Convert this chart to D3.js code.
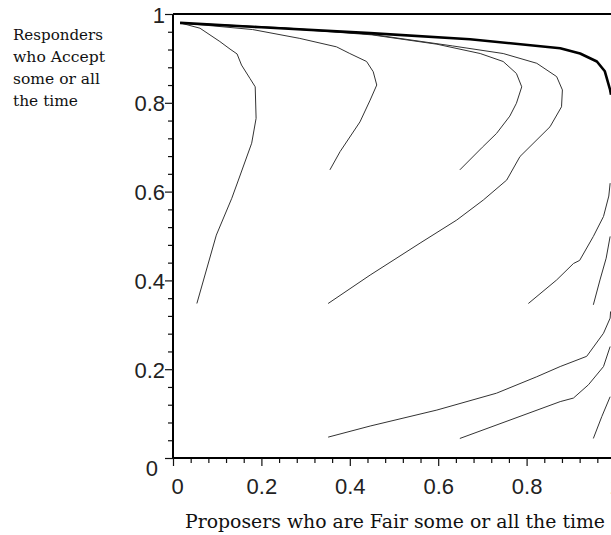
<!DOCTYPE html>
<html><head><meta charset="utf-8">
<script src="https://cdn.jsdelivr.net/npm/d3@7"></script>
<style>
body{margin:0;background:#fff;}
svg{display:block;}
.tick text{font-family:"Liberation Sans",Arial,sans-serif;font-size:22px;fill:#222;}
</style></head>
<body>
<svg id="chart" width="611" height="535"></svg>
<script>
// Tick values
const majorTicks = [0, 0.2, 0.4, 0.6, 0.8, 1];
const xTickLabels = ["0", "0.2", "0.4", "0.6", "0.8", "1"];
const yTickLabels = ["0", "0.2", "0.4", "0.6", "0.8", "1"];
const xTitle = "Proposers who are Fair some or all the time";
const yTitleLines = ["Responders", "who Accept", "some or all", "the time"];

// Trajectories: [proposers fair, responders accept]
const curveA = [[0.054,0.348],[0.098,0.502],[0.133,0.585],[0.148,0.626],[0.178,0.709],[0.188,0.765],[0.186,0.836],[0.174,0.855],[0.155,0.885],[0.145,0.910],[0.129,0.921],[0.106,0.938],[0.061,0.968],[0.016,0.980]];
const curveB = [[0.355,0.649],[0.378,0.690],[0.423,0.757],[0.446,0.806],[0.461,0.840],[0.453,0.870],[0.438,0.893],[0.400,0.911],[0.370,0.926],[0.287,0.945],[0.180,0.965],[0.016,0.980]];
const curveC = [[0.649,0.649],[0.700,0.700],[0.732,0.731],[0.762,0.770],[0.777,0.799],[0.789,0.836],[0.777,0.866],[0.747,0.893],[0.695,0.911],[0.597,0.932],[0.450,0.953],[0.250,0.968],[0.016,0.980]];
const curveD = [[0.351,0.348],[0.446,0.412],[0.559,0.484],[0.642,0.536],[0.702,0.581],[0.755,0.626],[0.785,0.679],[0.853,0.746],[0.879,0.791],[0.881,0.829],[0.868,0.859],[0.823,0.889],[0.747,0.911],[0.633,0.928],[0.450,0.954],[0.250,0.969],[0.016,0.980]];
const curveE = [[0.016,0.980],[0.200,0.970],[0.446,0.957],[0.672,0.943],[0.876,0.923],[0.921,0.911],[0.959,0.893],[0.977,0.871],[0.989,0.829],[0.991,0.818]];
const curveF = [[0.804,0.348],[0.868,0.401],[0.906,0.438],[0.920,0.445],[0.951,0.499],[0.974,0.544],[0.986,0.590],[0.989,0.619]];
const curveG = [[0.951,0.345],[0.966,0.401],[0.980,0.450],[0.989,0.499]];
const curveH = [[0.351,0.047],[0.446,0.072],[0.597,0.108],[0.732,0.146],[0.823,0.183],[0.876,0.206],[0.936,0.229],[0.974,0.281],[0.989,0.315],[0.990,0.330]];
const curveI = [[0.649,0.044],[0.876,0.127],[0.906,0.135],[0.940,0.165],[0.974,0.206],[0.989,0.251]];
const curveJ = [[0.951,0.044],[0.970,0.093],[0.989,0.138]];
const topLine = [[0,1],[1,1]];

const thinCurves = [curveA, curveB, curveC, curveD, curveF, curveG, curveH, curveI, curveJ];
const thickCurves = [curveE, topLine];

const svg = d3.select("#chart");
const x = d3.scaleLinear().domain([0,1]).range([173,615]);
const y = d3.scaleLinear().domain([0,1]).range([458,14]);

const minorTicks = d3.range(0, 1.0001, 0.04).filter(v => Math.abs(v*5 - Math.round(v*5)) > 1e-6);

// minor ticks
svg.append("g").attr("transform","translate(0,458)")
  .call(d3.axisBottom(x).tickValues(minorTicks).tickSize(5).tickFormat(""))
  .call(g=>g.select(".domain").remove())
  .selectAll("line").attr("stroke","#111").attr("stroke-width",1.2);
svg.append("g").attr("transform","translate(173,0)")
  .call(d3.axisLeft(y).tickValues(minorTicks).tickSize(5).tickFormat(""))
  .call(g=>g.select(".domain").remove())
  .selectAll("line").attr("stroke","#111").attr("stroke-width",1.2);

// major x
const gx = svg.append("g").attr("transform","translate(0,458)")
  .call(d3.axisBottom(x).tickValues(majorTicks).tickSize(8).tickPadding(10)
    .tickFormat((d,i)=>xTickLabels[i]));
gx.select(".domain").attr("stroke","#000").attr("stroke-width",2).attr("d","M173,0H615");
gx.selectAll("line").attr("stroke","#111").attr("stroke-width",1.2);
gx.selectAll("text").attr("dy",null).attr("y",36)
  .attr("dx",(d)=> d===0 ? 4 : 0);

// major y
const gy = svg.append("g").attr("transform","translate(173,0)")
  .call(d3.axisLeft(y).tickValues(majorTicks).tickSize(8).tickPadding(8)
    .tickFormat((d,i)=>yTickLabels[i]));
gy.select(".domain").attr("stroke","#000").attr("stroke-width",2).attr("d","M0,458V14");
gy.selectAll("line").attr("stroke","#111").attr("stroke-width",1.2);
gy.selectAll("text").attr("y",8).attr("x",-8)
  .attr("dy",(d)=> d===0 ? 9 : 0).attr("dx",(d)=> d===0 ? -7 : 0);

// curves
const line = d3.line().x(d=>x(d[0])).y(d=>y(d[1]));
svg.append("g").selectAll("path").data(thinCurves).join("path")
  .attr("d",line).attr("fill","none").attr("stroke","#333").attr("stroke-width",1)
  .attr("stroke-linejoin","round");
svg.append("g").selectAll("path").data(thickCurves).join("path")
  .attr("d",line).attr("fill","none").attr("stroke","#000")
  .attr("stroke-width",(d,i)=> i===0 ? 2.6 : 2)
  .attr("stroke-linejoin","round");

// titles
svg.append("text").attr("x",185).attr("y",528)
  .attr("font-family","'DejaVu Serif','Liberation Serif',serif").attr("font-size",19)
  .attr("fill","#111").attr("textLength",420).attr("lengthAdjust","spacingAndGlyphs")
  .text(xTitle);
const lens = [90, 92, 87, 65];
svg.append("g").selectAll("text").data(yTitleLines).join("text")
  .attr("x",13).attr("y",(d,i)=>39.5 + i*22)
  .attr("font-family","'DejaVu Serif','Liberation Serif',serif").attr("font-size",15)
  .attr("fill","#111").attr("textLength",(d,i)=>lens[i]).attr("lengthAdjust","spacingAndGlyphs")
  .text(d=>d);
</script>
</body></html>
